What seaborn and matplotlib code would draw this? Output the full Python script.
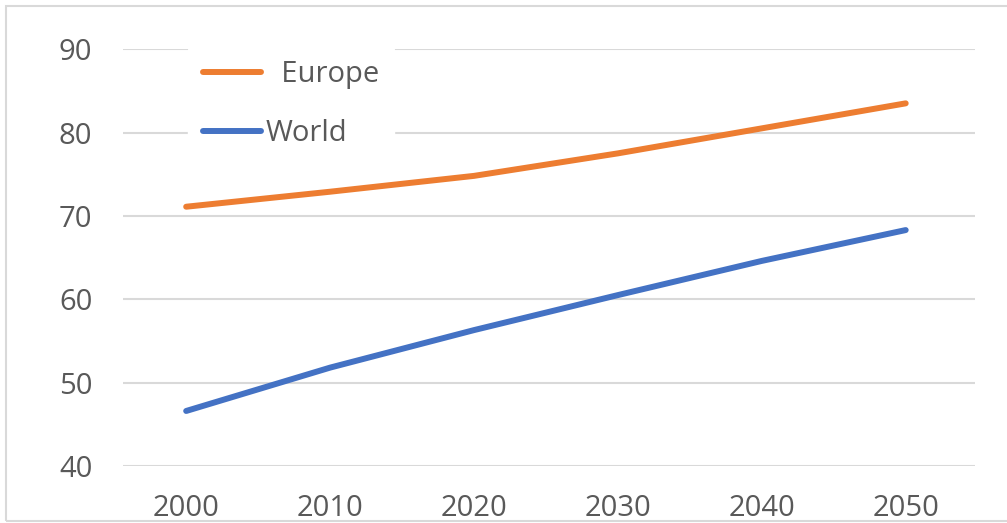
import matplotlib
matplotlib.use("Agg")
import matplotlib.pyplot as plt
import seaborn as sns
import pandas as pd
from matplotlib.patches import Rectangle

# Life expectancy style series, 2000-2050
years = [2000, 2010, 2020, 2030, 2040, 2050]
europe = [71.1, 72.9, 74.8, 77.5, 80.5, 83.5]
world = [46.6, 51.8, 56.3, 60.5, 64.6, 68.3]
series_names = ["Europe", "World"]
y_ticks = [40, 50, 60, 70, 80, 90]

colors = {"Europe": "#ED7D31", "World": "#4472C4"}
text_color = "#595959"
grid_color = "#D9D9D9"

sns.set_theme(style="white")
plt.rcParams["font.family"] = ["Open Sans", "DejaVu Sans"]

df = pd.DataFrame({
    "year": years * 2,
    "value": europe + world,
    "series": [series_names[0]] * len(years) + [series_names[1]] * len(years),
})

fig = plt.figure(figsize=(10.07, 5.23), dpi=100)
ax = fig.add_axes([0.122, 0.109, 0.846, 0.797])

sns.lineplot(data=df, x="year", y="value", hue="series", palette=colors,
             linewidth=4.3, legend=False, ax=ax, solid_capstyle="round")

ax.set_xlim(1995.6, 2054.8)
ax.set_ylim(40, 90)
ax.set_xticks(years)
ax.set_yticks(y_ticks)
ax.set_xlabel("")
ax.set_ylabel("")
for s in ax.spines.values():
    s.set_visible(False)
ax.grid(axis="y", color=grid_color, linewidth=1.5)
ax.set_axisbelow(True)
ax.tick_params(axis="x", length=0, pad=20, labelsize=21, labelcolor=text_color)
ax.tick_params(axis="y", length=0, pad=22, labelsize=21, labelcolor=text_color)

leg = ax.legend(ax.lines[:2], ["  Europe", "World"], loc="upper left",
                bbox_to_anchor=(0.077, 1.009), frameon=True, fontsize=21,
                handlelength=2.0, handletextpad=0.15, labelspacing=1.02,
                borderpad=0.5, borderaxespad=0)
leg.get_frame().set_facecolor("white")
leg.get_frame().set_edgecolor("white")
leg.get_frame().set_alpha(1)
for t in leg.get_texts():
    t.set_color(text_color)

# thin outer chart border
fig.patches.append(Rectangle((6 / 1007, 2 / 523), 1.1, 515 / 523,
                             transform=fig.transFigure, fill=False,
                             edgecolor=grid_color, linewidth=1.5, zorder=0))

fig.savefig("out.png", dpi=100, facecolor="white")
